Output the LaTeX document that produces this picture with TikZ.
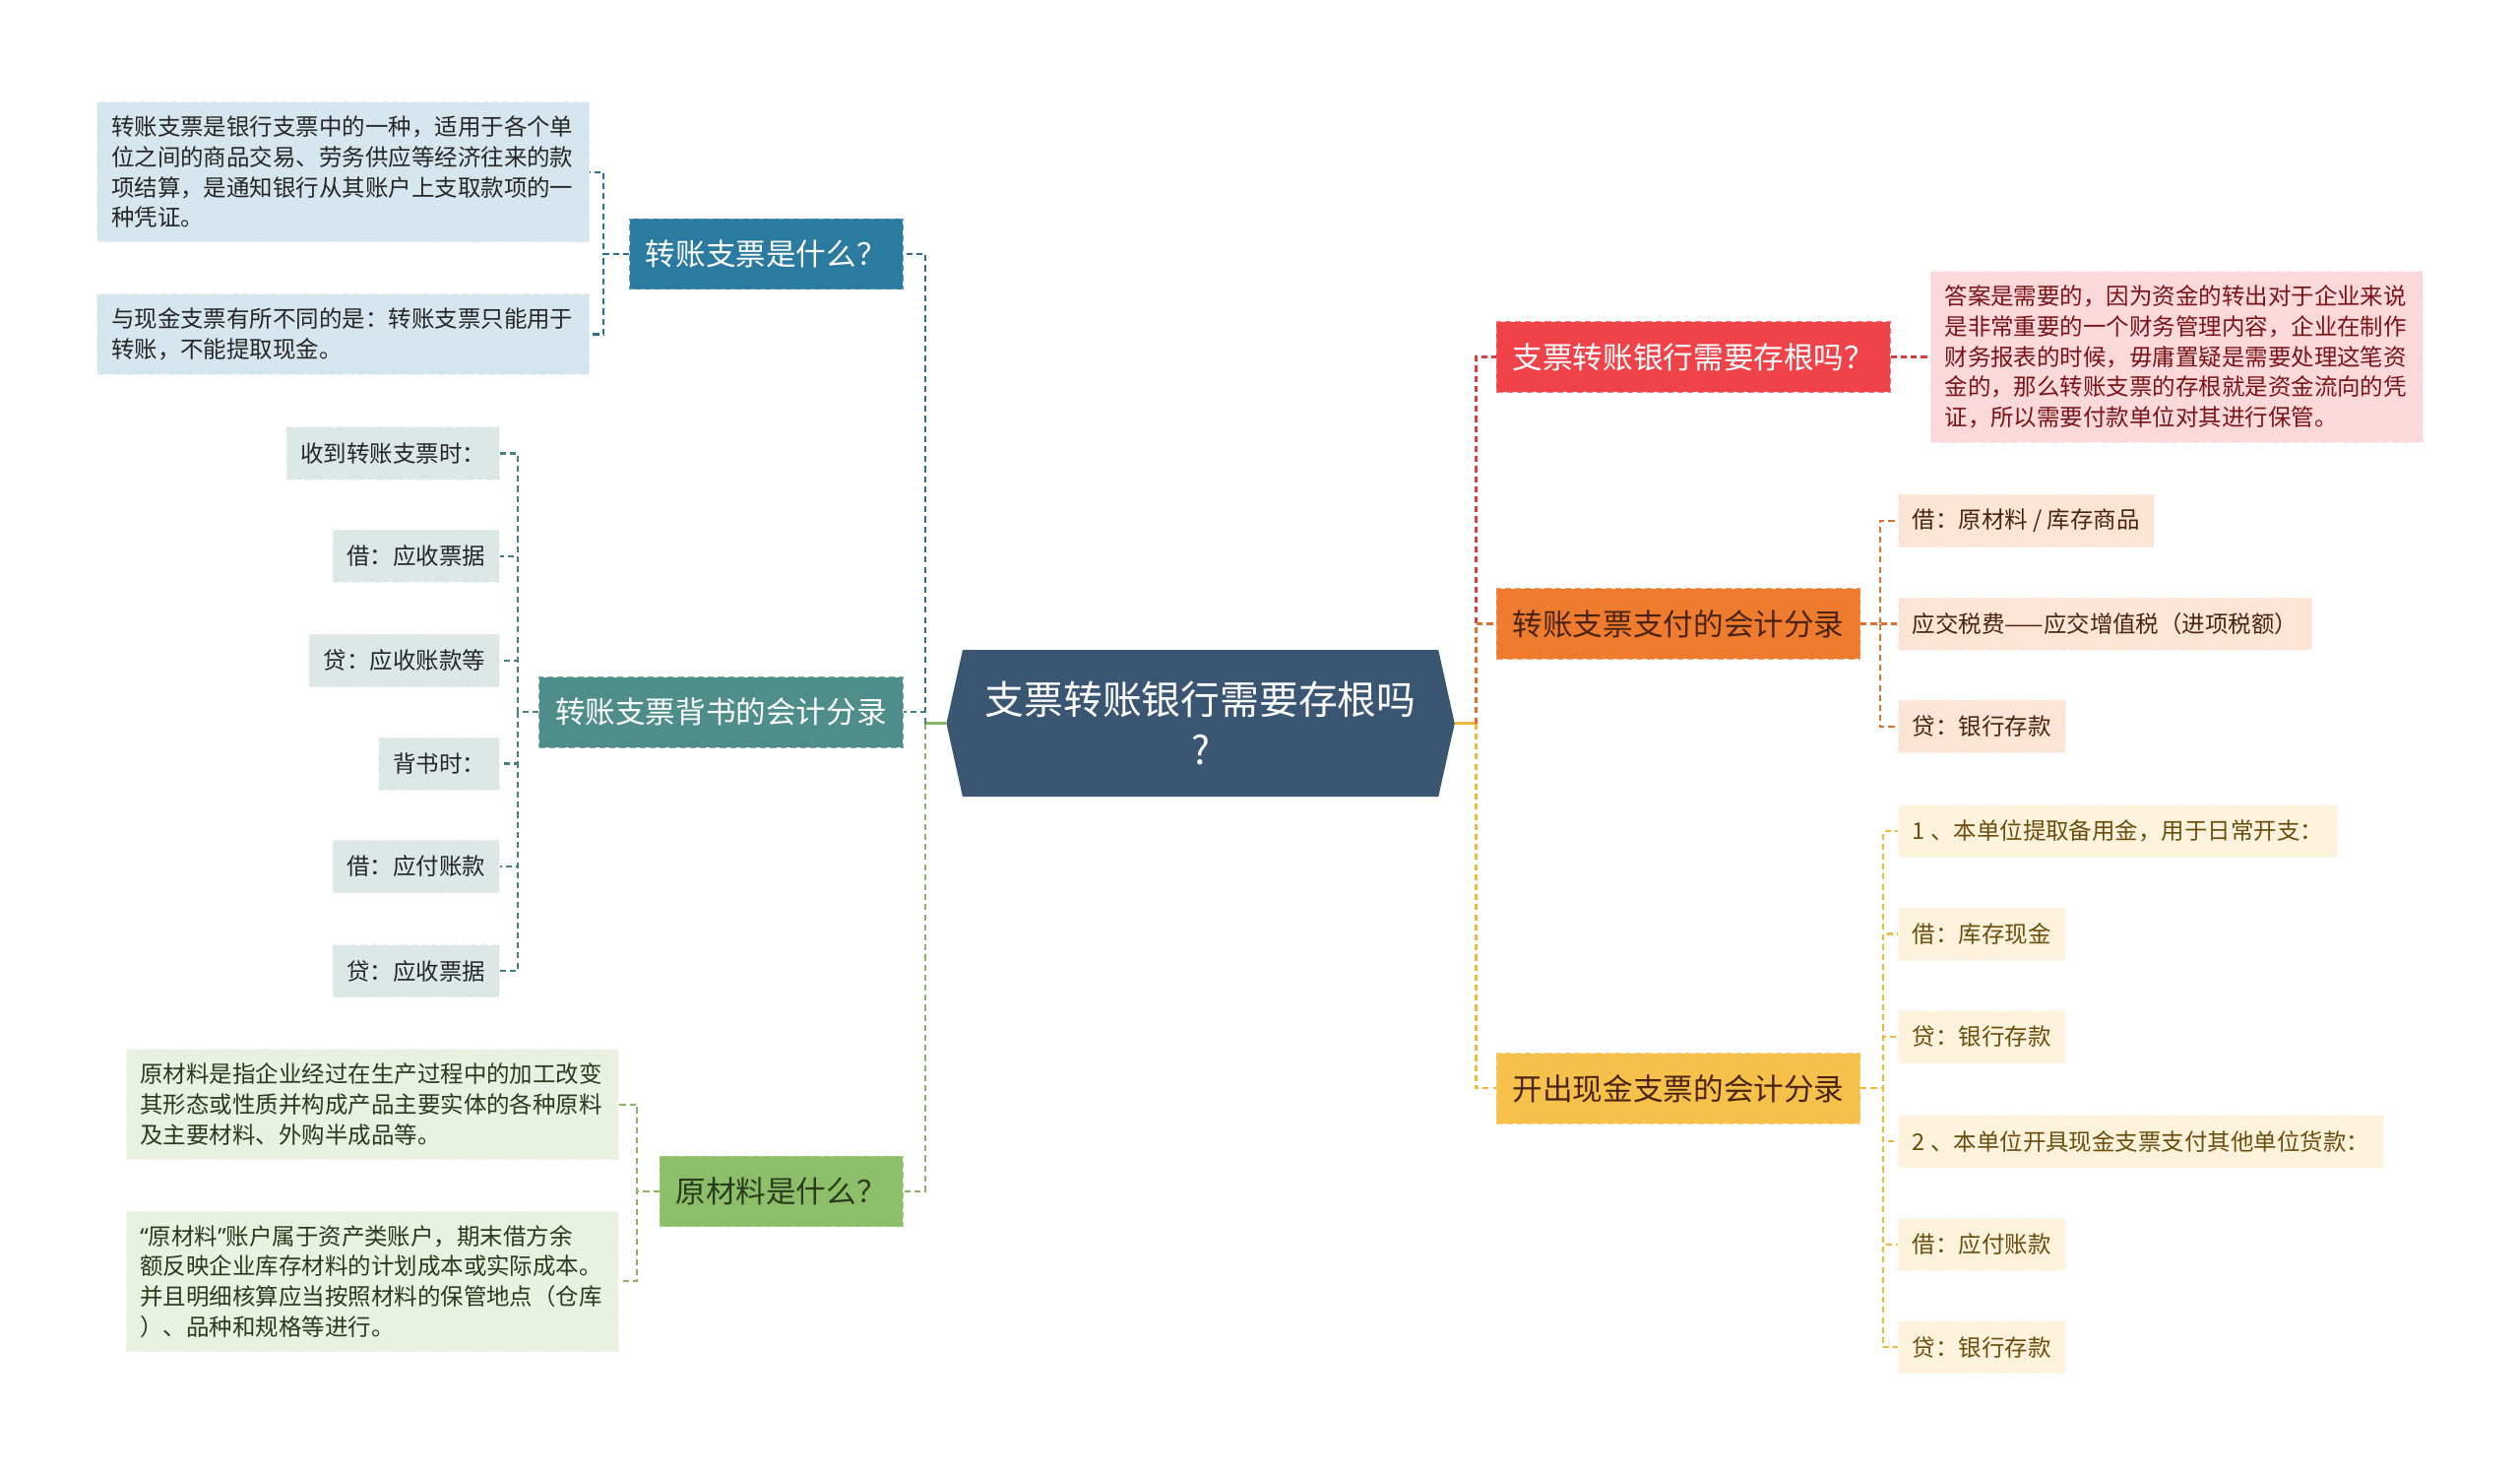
\documentclass[tikz,border=0pt]{standalone}
\usepackage{fontspec}
\setmainfont{Noto Sans CJK SC}
\newfontfamily\quotefont{Noto Sans}
\usepackage{tikz}
\usetikzlibrary{positioning}
\usetikzlibrary{shapes.symbols}

\definecolor{rootfill}{HTML}{3A5673}
\definecolor{bluefill}{HTML}{2B7BA0}
\definecolor{blueleaf}{HTML}{D6E6EE}
\definecolor{blueline}{HTML}{2B6E90}
\definecolor{tealfill}{HTML}{4E8D89}
\definecolor{tealleaf}{HTML}{DCE8E6}
\definecolor{tealline}{HTML}{467F7B}
\definecolor{greenfill}{HTML}{8DBE69}
\definecolor{greenleaf}{HTML}{E9F1E1}
\definecolor{greenline}{HTML}{86B563}
\definecolor{greentext}{HTML}{2A3A1C}
\definecolor{redfill}{HTML}{F04349}
\definecolor{redleaf}{HTML}{FBD9DA}
\definecolor{redline}{HTML}{E03B40}
\definecolor{redtext}{HTML}{7A1416}
\definecolor{orangefill}{HTML}{EF7B2F}
\definecolor{orangeleaf}{HTML}{FCE5D5}
\definecolor{orangeline}{HTML}{E07030}
\definecolor{orangetext}{HTML}{4A2410}
\definecolor{yellowfill}{HTML}{F6C14B}
\definecolor{yellowleaf}{HTML}{FDF2DB}
\definecolor{yellowline}{HTML}{F0B83C}
\definecolor{yellowtext}{HTML}{6B4E0E}

\tikzset{
    % The central topic, pointed at both ends
    root box/.style={
        signal, signal to=west and east, signal pointer angle=155,
        fill=rootfill, text=white, align=center,
        minimum width=253pt, minimum height=73pt,
        font=\fontsize{19.5}{25}\selectfont},
%
    % Coloured main topics
    branch box/.style={
        rectangle, fill=#1, draw=#1!75!white, dash pattern=on 3pt off 2pt,
        minimum height=35pt, inner xsep=8pt,
        font=\fontsize{15}{18}\selectfont},
%
    % Pale boxes holding the details
    leaf box/.style={
        rectangle, fill=#1, draw=#1!60!white, dash pattern=on 3pt off 2pt,
        minimum height=26pt, inner xsep=7pt, inner ysep=7pt, align=left,
        font=\fontsize{11.5}{15}\selectfont},
%
    % Wider detail boxes of several lines
    note box/.style={leaf box=#1, text width=231pt},
%
    % Dashed connectors
    link/.style={draw=#1, line width=1.1pt, dash pattern=on 3pt off 2pt},
    stub/.style={draw=#1, line width=1.3pt}}

\begin{document}
\begin{tikzpicture}[x=0.8pt, y=-0.8pt]

\useasboundingbox (0,0) rectangle (1568,917);

% Central topic

\node [root box] (root) at (747,450) {支票转账银行需要存根吗\\?};

% Left hand topics

\node [branch box=bluefill, text=white, anchor=east] (what) at (562,158)
    {转账支票是什么？};
\node [note box=blueleaf, text=black!85, anchor=east] (whatdef) at (367,107)
    {转账支票是银行支票中的一种，适用于各个单\\
     位之间的商品交易、劳务供应等经济往来的款\\
     项结算，是通知银行从其账户上支取款项的一\\
     种凭证。};
\node [note box=blueleaf, text=black!85, anchor=east] (whatdiff) at (367,208)
    {与现金支票有所不同的是：转账支票只能用于\\
     转账，不能提取现金。};

\node [branch box=tealfill, text=white, anchor=east] (endorse) at (562,443)
    {转账支票背书的会计分录};
\node [leaf box=tealleaf, text=black!85, anchor=east] (recv) at (311,282)
    {收到转账支票时：};
\node [leaf box=tealleaf, text=black!85, anchor=east] (recvdr) at (311,346)
    {借：应收票据};
\node [leaf box=tealleaf, text=black!85, anchor=east] (recvcr) at (311,411)
    {贷：应收账款等};
\node [leaf box=tealleaf, text=black!85, anchor=east] (back) at (311,475)
    {背书时：};
\node [leaf box=tealleaf, text=black!85, anchor=east] (backdr) at (311,539)
    {借：应付账款};
\node [leaf box=tealleaf, text=black!85, anchor=east] (backcr) at (311,604)
    {贷：应收票据};

\node [branch box=greenfill, text=greentext, anchor=east] (raw) at (562,741)
    {原材料是什么？};
\node [note box=greenleaf, text=greentext, anchor=east] (rawdef) at (385,687)
    {原材料是指企业经过在生产过程中的加工改变\\
     其形态或性质并构成产品主要实体的各种原料\\
     及主要材料、外购半成品等。};
\node [note box=greenleaf, text=greentext, anchor=east] (rawacct) at (385,797)
    {{\quotefont“}原材料{\quotefont”}账户属于资产类账户，期末借方余\\
     额反映企业库存材料的计划成本或实际成本。\\
     并且明细核算应当按照材料的保管地点（仓库\\
     ）、品种和规格等进行。};

% Right hand topics

\node [branch box=redfill, text=white, anchor=west] (stub) at (931,222)
    {支票转账银行需要存根吗？};
\node [note box=redleaf, text=redtext, anchor=west] (stubans) at (1201,222)
    {答案是需要的，因为资金的转出对于企业来说\\
     是非常重要的一个财务管理内容，企业在制作\\
     财务报表的时候，毋庸置疑是需要处理这笔资\\
     金的，那么转账支票的存根就是资金流向的凭\\
     证，所以需要付款单位对其进行保管。};

\node [branch box=orangefill, text=orangetext, anchor=west] (pay) at (931,388)
    {转账支票支付的会计分录};
\node [leaf box=orangeleaf, text=orangetext, anchor=west] (paydr) at (1181,324)
    {借：原材料 / 库存商品};
\node [leaf box=orangeleaf, text=orangetext, anchor=west] (paytax) at (1181,388)
    {应交税费——应交增值税（进项税额）};
\node [leaf box=orangeleaf, text=orangetext, anchor=west] (paycr) at (1181,452)
    {贷：银行存款};

\node [branch box=yellowfill, text=orangetext, anchor=west] (cash) at (931,677)
    {开出现金支票的会计分录};
\node [leaf box=yellowleaf, text=yellowtext, anchor=west] (draw) at (1181,517)
    {1 、本单位提取备用金，用于日常开支：};
\node [leaf box=yellowleaf, text=yellowtext, anchor=west] (drawdr) at (1181,581)
    {借：库存现金};
\node [leaf box=yellowleaf, text=yellowtext, anchor=west] (drawcr) at (1181,645)
    {贷：银行存款};
\node [leaf box=yellowleaf, text=yellowtext, anchor=west] (issue) at (1181,710)
    {2 、本单位开具现金支票支付其他单位货款：};
\node [leaf box=yellowleaf, text=yellowtext, anchor=west] (issuedr) at (1181,774)
    {借：应付账款};
\node [leaf box=yellowleaf, text=yellowtext, anchor=west] (issuecr) at (1181,838)
    {贷：银行存款};

% Connectors, root to topics

\draw [stub=greenline] (root.west) -- ++(-13,0) coordinate (lj);
\draw [stub=yellowline] (root.east) -- ++(13,0) coordinate (rj);

\draw [link=blueline] (lj) |- (what.east);
\draw [link=tealline] (lj) |- (endorse.east);
\draw [link=greenline] (lj) |- (raw.east);
\draw [link=redline] (rj) |- (stub.west);
\draw [link=orangeline] (rj) |- (pay.west);
\draw [link=yellowline] (rj) |- (cash.west);

% Connectors, topics to details

\draw [link=blueline] (what.west) -- ++(-16,0) |- (whatdef.east);
\draw [link=blueline] (what.west) -- ++(-16,0) |- (whatdiff.east);

\draw [link=tealline] (endorse.west) -- ++(-13,0) |- (recv.east);
\draw [link=tealline] (endorse.west) -- ++(-13,0) |- (recvdr.east);
\draw [link=tealline] (endorse.west) -- ++(-13,0) |- (recvcr.east);
\draw [link=tealline] (endorse.west) -- ++(-13,0) |- (back.east);
\draw [link=tealline] (endorse.west) -- ++(-13,0) |- (backdr.east);
\draw [link=tealline] (endorse.west) -- ++(-13,0) |- (backcr.east);

\draw [link=greenline] (raw.west) -- ++(-14,0) |- (rawdef.east);
\draw [link=greenline] (raw.west) -- ++(-14,0) |- (rawacct.east);

\draw [link=redline] (stub.east) -- (stubans.west);

\draw [link=orangeline] (pay.east) -- ++(12,0) |- (paydr.west);
\draw [link=orangeline] (pay.east) -- ++(12,0) |- (paytax.west);
\draw [link=orangeline] (pay.east) -- ++(12,0) |- (paycr.west);

\draw [link=yellowline] (cash.east) -- ++(14,0) |- (draw.west);
\draw [link=yellowline] (cash.east) -- ++(14,0) |- (drawdr.west);
\draw [link=yellowline] (cash.east) -- ++(14,0) |- (drawcr.west);
\draw [link=yellowline] (cash.east) -- ++(14,0) |- (issue.west);
\draw [link=yellowline] (cash.east) -- ++(14,0) |- (issuedr.west);
\draw [link=yellowline] (cash.east) -- ++(14,0) |- (issuecr.west);

\end{tikzpicture}
\end{document}
